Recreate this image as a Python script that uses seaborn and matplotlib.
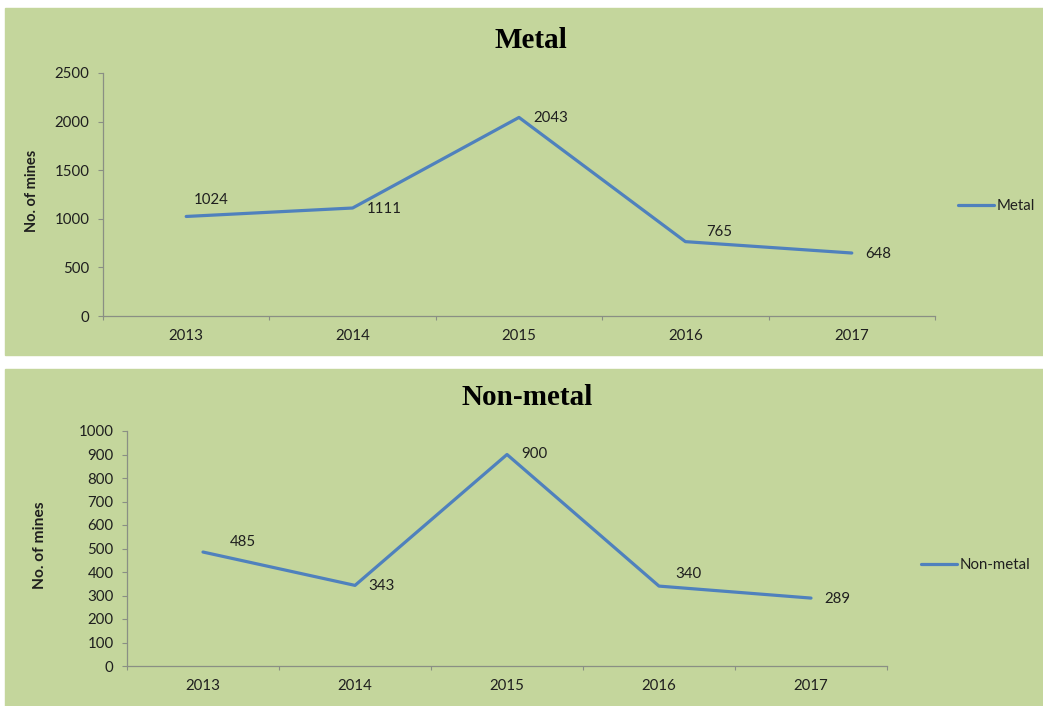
import matplotlib
matplotlib.use("Agg")
import matplotlib.pyplot as plt
from matplotlib.patches import Rectangle
import seaborn as sns
import pandas as pd

# data
years = ["2013", "2014", "2015", "2016", "2017"]
metal = [1024, 1111, 2043, 765, 648]
non_metal = [485, 343, 900, 340, 289]

# label offsets (points) for each data label
metal_off = [(5.5, 11.5), (10.5, -0.7), (10.5, -0.7), (15, 7), (10, -0.5)]
non_metal_off = [(19, 7), (9.5, -0.5), (10, 0), (12, 8.5), (9.5, -0.5)]

sns.set_style("white")
plt.rcParams["font.family"] = ["Lato", "DejaVu Sans"]

green = "#c4d69c"
blue = "#4f81bd"
txt = "#1f1f1f"
grey = "#8a8f84"
fs = 10.8

fig = plt.figure(figsize=(10.43, 7.06), dpi=100)
fig.patch.set_facecolor("white")
W, H = 1043, 706

def fx(px):
    return px / W

def fy(py):
    return 1 - py / H

# green chart areas, behind the axes
fig.patches.append(Rectangle((fx(5), fy(355)), fx(1038), (355 - 8) / H,
                             transform=fig.transFigure, color=green, zorder=-10))
fig.patches.append(Rectangle((fx(5), 0), fx(1038), (706 - 369) / H,
                             transform=fig.transFigure, color=green, zorder=-10))

panels = [
    dict(name="Metal", vals=metal, offs=metal_off, box=(103, 73, 935, 316),
         ymax=2500, step=500, title_xy=(531, 40), ylab_x=32, ylab_w="bold",
         ylab_fs=10.5, leg_xy=(958, 206)),
    dict(name="Non-metal", vals=non_metal, offs=non_metal_off, box=(127, 431, 887, 666),
         ymax=1000, step=100, title_xy=(527, 398), ylab_x=40, ylab_w="bold",
         ylab_fs=11.2, leg_xy=(921, 565)),
]

for p in panels:
    x0, y0, x1, y1 = p["box"]
    ax = fig.add_axes([fx(x0), fy(y1), (x1 - x0) / W, (y1 - y0) / H])
    ax.set_facecolor("none")
    ax.set_zorder(1)
    df = pd.DataFrame({"Year": years, "Mines": p["vals"]})
    sns.lineplot(data=df, x="Year", y="Mines", ax=ax, color=blue, lw=2.3,
                 label=p["name"], sort=False)
    ax.set_xlim(-0.5, len(years) - 0.5)
    ax.set_ylim(0, p["ymax"])
    ax.set_yticks(range(0, p["ymax"] + 1, p["step"]))
    ax.set_xticks(range(len(years)))
    ax.set_xticklabels(years)
    ax.set_xticks([i - 0.5 for i in range(len(years) + 1)], minor=True)
    ax.tick_params(axis="x", which="major", length=0, pad=9, labelsize=fs, labelcolor=txt)
    ax.tick_params(axis="x", which="minor", length=3, color=grey, width=0.8, direction="out",
                   bottom=True)
    ax.tick_params(axis="y", length=3.6, color=grey, width=0.8, pad=6,
                   labelsize=fs, labelcolor=txt, left=True)
    for s in ["top", "right"]:
        ax.spines[s].set_visible(False)
    for s in ["left", "bottom"]:
        ax.spines[s].set_color(grey)
        ax.spines[s].set_linewidth(0.9)
    ax.set_xlabel("")
    ax.set_ylabel("")

    for i, v in enumerate(p["vals"]):
        ax.annotate(str(v), (i, v), xytext=p["offs"][i], textcoords="offset points",
                    ha="left", va="center", fontsize=fs, color=txt)

    ax.legend(loc="center left", bbox_to_anchor=(fx(p["leg_xy"][0]), fy(p["leg_xy"][1])),
              bbox_transform=fig.transFigure, frameon=False, fontsize=fs,
              handlelength=2.4, handletextpad=0.15, borderpad=0, borderaxespad=0,
              labelcolor=txt)

    fig.text(fx(p["title_xy"][0]), fy(p["title_xy"][1]), p["name"], ha="center", va="center",
             fontsize=21, fontweight="bold", family=["Liberation Serif", "DejaVu Serif"],
             color="black")
    fig.text(fx(p["ylab_x"]), (fy(y0) + fy(y1)) / 2 + 0.005, "No. of mines", rotation=90,
             ha="center", va="center", fontsize=p["ylab_fs"], fontweight=p["ylab_w"], color=txt)

fig.savefig("out.png", dpi=100)
